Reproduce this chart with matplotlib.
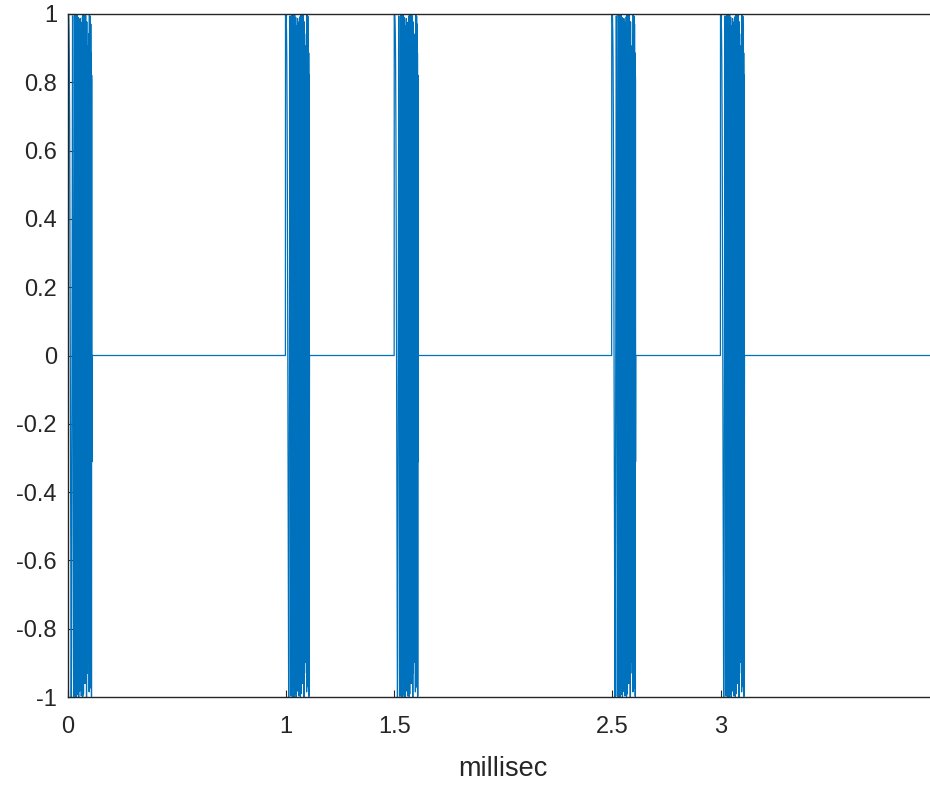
import numpy as np
import matplotlib
matplotlib.use('Agg')
import matplotlib.pyplot as plt

# Параметры импульсов (мс)
pulse_starts = [0.0, 1.0, 1.5, 2.5, 3.0]
pulse_width = 0.11         # длительность импульса, мс
f_end = 500.0              # конечная частота ЛЧМ, кГц (1/мс)
dt = 0.0004                # шаг дискретизации, мс
t_end = 4.0

xticks = [0, 1, 1.5, 2.5, 3]
xticklabels = ['0', '1', '1.5', '2.5', '3']
yticks = [-1, -0.8, -0.6, -0.4, -0.2, 0, 0.2, 0.4, 0.6, 0.8, 1]
yticklabels = ['-1', '-0.8', '-0.6', '-0.4', '-0.2', '0', '0.2', '0.4', '0.6', '0.8', '1']

# Сигнал: последовательность ЛЧМ-импульсов
t = np.arange(0, t_end + dt / 2, dt)
k = f_end / pulse_width
y = np.zeros_like(t)
for t0 in pulse_starts:
    m = (t >= t0 - dt / 2) & (t < t0 + pulse_width)
    tau = np.clip(t[m] - t0, 0, None)
    y[m] = np.cos(np.pi * k * tau ** 2)

plt.rcParams['font.family'] = ['Liberation Sans', 'DejaVu Sans']
plt.rcParams['axes.unicode_minus'] = False

W, H = 930, 785
fig = plt.figure(figsize=(W / 100, H / 100), dpi=100)
ax = fig.add_axes([68 / W, (H - 697) / H, 870 / W, 683 / H])

ax.plot(t, y, color='#0072BD', linewidth=0.9)
ax.set_xlim(0, 4)
ax.set_ylim(-1, 1)
ax.set_xticks(xticks)
ax.set_xticklabels(xticklabels)
ax.set_yticks(yticks)
ax.set_yticklabels(yticklabels)
ax.set_xlabel('millisec', fontsize=19.5, color='#262626', va='center')
ax.xaxis.set_label_coords(0.5, (697 - 769) / 683)

dark = '#262626'
for s in ax.spines.values():
    s.set_color(dark)
    s.set_linewidth(1.0)
ax.tick_params(direction='in', length=5, width=0.8, colors=dark, labelsize=17,
               top=True, right=True)
ax.tick_params(axis='x', pad=14)
ax.tick_params(axis='y', pad=8)

fig.savefig('out.png', dpi=100)
